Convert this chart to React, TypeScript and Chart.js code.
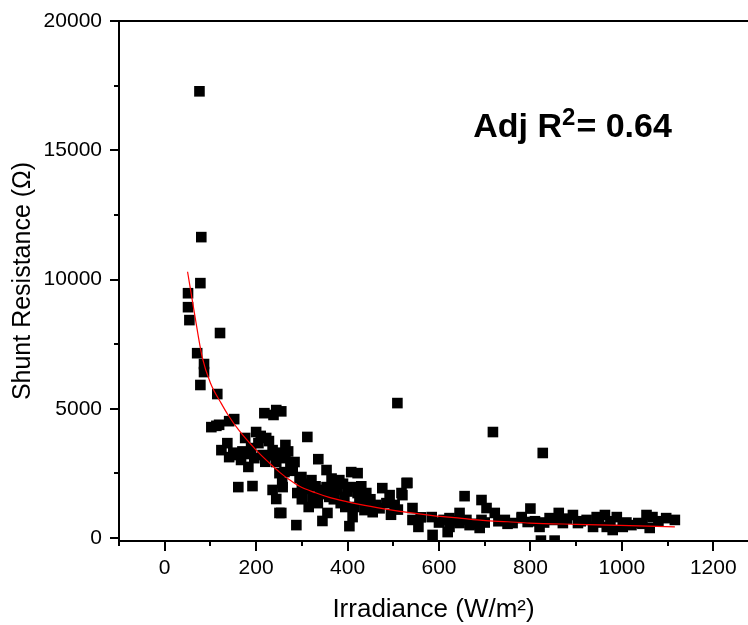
import React, { useEffect, useRef } from "react";
import { Chart, registerables } from "chart.js";

Chart.register(...registerables);

// ---- data ----
const irradiance = [
  76, 80, 78, 51, 51, 54, 121, 71, 86, 86, 78, 115,
  102, 113, 119, 141, 152, 218, 238, 244, 255,
  137, 124, 141, 161, 176, 200, 222, 205, 189, 167, 183, 196, 214, 236, 244, 264, 264, 251, 257,
  161, 192, 236, 244, 251, 288, 210, 228, 250, 270, 275, 280, 262, 258, 284, 290, 295, 299, 255,
  230, 220, 185, 170, 150,
  312, 336, 321, 354, 354, 382, 408, 422, 408, 422, 441, 444, 476, 492, 518, 529, 503, 463, 437,
  411, 404, 356, 345, 323, 360, 378, 393, 426, 345, 300, 310, 330, 340, 370, 385, 400, 415, 430,
  450, 455, 470, 485, 495, 510, 509, 531, 520, 542, 542, 555, 300, 315, 335, 370, 390, 365, 395,
  584, 586, 619, 623, 623, 645, 645, 656, 667, 693, 693, 689, 704, 718, 722, 744, 761, 781, 560,
  600, 610, 635, 660, 675, 700, 730, 750,
  800, 781, 794, 820, 823, 853, 842, 862, 871, 893, 904, 923, 937, 945, 963, 967, 980, 989, 1002,
  1021, 1036, 1054, 1061, 1067, 1097, 1116, 827, 810, 830, 850, 880, 910, 950, 975, 1010, 1045, 1080,
];
const shuntResistance = [
  17280, 11640, 9860, 9470, 8930, 8430, 7930, 7150, 6730, 6420, 5920, 5570,
  4290, 4340, 4380, 4520, 4600, 4830, 4760, 4950, 4900,
  3670, 3400, 3130, 3210, 3870, 4100, 3870, 3670, 3480, 3020, 2750, 3090, 3210, 3400, 2940, 3600, 3090, 2510, 2130,
  1970, 2010, 1860, 1510, 970, 500, 3950, 3750, 3300, 3350, 2800, 2600, 2550, 1970, 2940, 1740, 2320, 2360, 970,
  3200, 2950, 3250, 3350, 3300,
  3910, 3050, 2240, 2630, 1970, 2240, 2550, 2510, 1970, 1740, 1740, 1350, 1930, 1660, 1740, 2130, 1280, 1280, 1080,
  810, 460, 970, 660, 1590, 1590, 1860, 1590, 1470, 1860, 2100, 1900, 2000, 1700, 1500, 1350, 1800, 1200, 2000,
  1500, 1000, 1150, 1350, 900, 1100, 5220, 2130, 1660, 1160, 700, 430, 1500, 1200, 1350, 1950, 2100, 2300, 1200,
  810, 120, 230, 770, 430, 970, 580, 1620, 500, 1470, 700, 390, 1160, 4100, 970, 700, 580, 770, 800,
  600, 700, 650, 700, 550, 600, 650, 550,
  1140, 810, 620, 430, -100, -100, 770, 970, 580, 890, 580, 700, 430, 810, 890, 430, 310, 810, 430,
  500, 580, 890, 390, 810, 770, 700, 3290, 650, 600, 700, 750, 650, 600, 650, 600, 550, 650,
];

// fitted curve
const fitIrradiance = [
  50, 65, 82, 100, 124, 139, 163, 200, 229, 251, 273, 295, 330, 360, 400, 426, 480, 536, 586, 650,
  696, 750, 798, 900, 996, 1116,
];
const fitResistance = [
  10300, 8700, 7000, 6000, 5200, 4750, 4150, 3400, 2900, 2550, 2250, 2000, 1750, 1570, 1400, 1300,
  1130, 980, 870, 760, 680, 630, 580, 530, 490, 430,
];

// axis ranges and tick labels
const X_MIN = -100;
const X_MAX = 1276;
const Y_MIN = -115;
const Y_MAX = 20000;
const xTickLabels = [0, 200, 400, 600, 800, 1000, 1200];
const xMinorTicks = [-100, 100, 300, 500, 700, 900, 1100];
const yTickLabels = [0, 5000, 10000, 15000, 20000];
const yMinorTicks = [2500, 7500, 12500, 17500];

const xTitle = "Irradiance (W/m\u00B2)";
const yTitle = "Shunt Resistance (\u03A9)";
const annotation = { x: 675, y: 15520, main: "Adj R", sup: "2", rest: "= 0.64" };

const FONT = "'Liberation Sans', Arial, Helvetica, sans-serif";

const axisDecor = {
  id: "axisDecor",
  afterDraw(chart: any) {
    const { ctx, chartArea: a, scales } = chart;
    const xs = scales.x;
    const ys = scales.y;
    ctx.save();
    ctx.strokeStyle = "#000";
    ctx.lineWidth = 2;
    ctx.beginPath();
    // top frame line
    ctx.moveTo(a.left, a.top);
    ctx.lineTo(a.right, a.top);
    const xTick = (v: number, len: number) => {
      const px = Math.round(xs.getPixelForValue(v));
      ctx.moveTo(px, a.bottom);
      ctx.lineTo(px, a.bottom + len);
    };
    const yTick = (v: number, len: number) => {
      const py = Math.round(ys.getPixelForValue(v));
      ctx.moveTo(a.left, py);
      ctx.lineTo(a.left - len, py);
    };
    xTickLabels.forEach((v) => xTick(v, 10));
    xMinorTicks.forEach((v) => xTick(v, 5));
    yTickLabels.forEach((v) => yTick(v, 9));
    yMinorTicks.forEach((v) => yTick(v, 5));
    ctx.stroke();

    // annotation text
    const ax = xs.getPixelForValue(annotation.x);
    const ay = ys.getPixelForValue(annotation.y);
    ctx.fillStyle = "#000";
    ctx.textBaseline = "alphabetic";
    ctx.textAlign = "left";
    ctx.font = `bold 34px ${FONT}`;
    ctx.fillText(annotation.main, ax, ay);
    let w = ctx.measureText(annotation.main).width;
    ctx.font = `bold 24px ${FONT}`;
    ctx.fillText(annotation.sup, ax + w, ay - 12);
    w += ctx.measureText(annotation.sup).width;
    ctx.font = `bold 34px ${FONT}`;
    ctx.fillText(annotation.rest, ax + w + 1, ay);
    ctx.restore();
  },
};

export default function App() {
  const ref = useRef<HTMLCanvasElement | null>(null);

  useEffect(() => {
    if (!ref.current) return;
    Chart.defaults.font.family = FONT;
    Chart.defaults.color = "#000";
    const scatterPts = irradiance.map((x, i) => ({ x, y: shuntResistance[i] }));
    const fitPts = fitIrradiance.map((x, i) => ({ x, y: fitResistance[i] }));
    const chart = new Chart(ref.current, {
      type: "scatter",
      data: {
        datasets: [
          {
            type: "line",
            label: "fit",
            data: fitPts,
            borderColor: "#ff0000",
            borderWidth: 1.2,
            pointRadius: 0,
            fill: false,
            cubicInterpolationMode: "monotone",
            clip: 0,
          } as any,
          {
            label: "data",
            data: scatterPts,
            pointStyle: "rect",
            pointRadius: 7.5,
            backgroundColor: "#000",
            borderWidth: 0,
            clip: 0,
          } as any,
        ],
      },
      options: {
        responsive: false,
        animation: false,
        devicePixelRatio: 1,
        layout: { autoPadding: false, padding: { left: 0, top: 21, right: 0, bottom: 0 } },
        plugins: {
          legend: { display: false },
          tooltip: { enabled: false },
        },
        scales: {
          x: {
            type: "linear",
            min: X_MIN,
            max: X_MAX,
            grid: { display: false, drawTicks: false, tickLength: 0 },
            border: { display: true, color: "#000", width: 2 },
            afterBuildTicks: (s: any) => {
              s.ticks = xTickLabels.map((value) => ({ value }));
            },
            ticks: {
              autoSkip: false,
              padding: 15,
              font: { size: 21 },
              color: "#000",
              maxRotation: 0,
              callback: (v: any) => String(v),
            },
            title: {
              display: true,
              text: xTitle,
              font: { size: 26 },
              color: "#000",
              padding: { top: 0, bottom: 0 },
            },
            afterFit: (s: any) => {
              s.height = 84;
              s.paddingLeft = 0;
              s.paddingRight = 0;
            },
          },
          y: {
            type: "linear",
            min: Y_MIN,
            max: Y_MAX,
            grid: { display: false, drawTicks: false, tickLength: 0 },
            border: { display: true, color: "#000", width: 2 },
            afterBuildTicks: (s: any) => {
              s.ticks = yTickLabels.map((value) => ({ value }));
            },
            ticks: {
              autoSkip: false,
              padding: 17,
              font: { size: 21 },
              color: "#000",
              callback: (v: any) => String(v),
            },
            title: {
              display: true,
              text: yTitle,
              font: { size: 25 },
              color: "#000",
              padding: { top: 8, bottom: 0 },
            },
            afterFit: (s: any) => {
              s.width = 119;
              s.paddingTop = 0;
              s.paddingBottom = 0;
            },
          },
        },
      },
      plugins: [axisDecor],
    });
    return () => chart.destroy();
  }, []);

  return (
    <div style={{ position: "absolute", left: 0, top: 0, width: 748, height: 625, background: "#fff" }}>
      <canvas ref={ref} width={748} height={625} style={{ display: "block" }} />
    </div>
  );
}
